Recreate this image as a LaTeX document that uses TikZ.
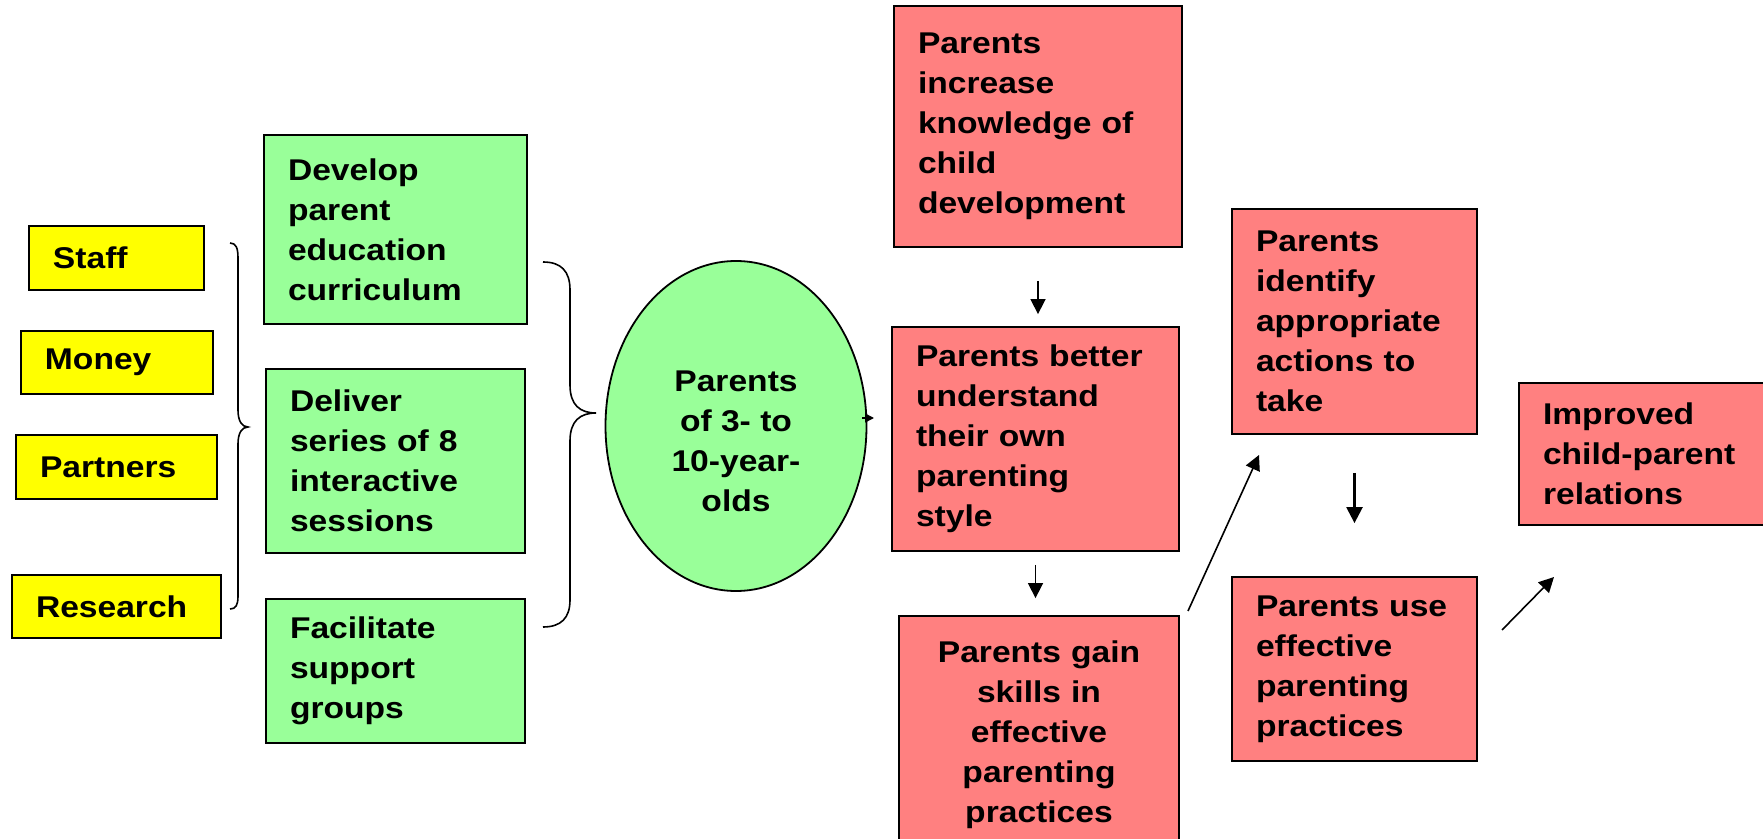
\documentclass[tikz,border=0pt]{standalone}
\usepackage{fontspec}
\setmainfont{Liberation Sans}[FakeStretch=1.12]
\usetikzlibrary{arrows.meta,shapes.geometric}
\definecolor{yelc}{HTML}{FFFF00}
\definecolor{grnc}{HTML}{99FF99}
\definecolor{redc}{HTML}{FF8080}
\newcommand\mylbl{\fontsize{15}{20}\selectfont\bfseries}
\tikzset{
  box/.style={draw=black, line width=0.9pt, inner xsep=12pt, inner ysep=0pt, align=left, font=\mylbl},
  yel/.style={box, fill=yelc},
  grn/.style={box, fill=grnc},
  red/.style={box, fill=redc},
  arr/.style={-{Triangle[length=7.5pt,width=7.5pt]}, line width=0.8pt},
  brc/.style={line width=0.8pt},
}
\begin{document}
\begin{tikzpicture}[x=0.5pt,y=-0.5pt]
\useasboundingbox (0,0) rectangle (1763,839);
\clip (0,0) rectangle (1763,839);
% inputs
\node[yel, minimum width=87.5pt, text width=63.5pt, minimum height=32pt] (staff) at (116.5,258) {Staff};
\node[yel, minimum width=96pt, text width=72pt, minimum height=31.5pt] (money) at (117,362.5) {Money};
\node[yel, minimum width=100.5pt, text width=76.5pt, minimum height=32pt] (partners) at (116.5,467) {Partners};
\node[yel, minimum width=104.5pt, text width=80.5pt, minimum height=31.5pt] (research) at (116.5,606.5) {Research};
% left brace
\draw[brc] (230,243) .. controls (236,243) and (238,248) .. (238,258) -- (238,410)
  .. controls (238,421) and (242,427) .. (248,427)
  .. controls (242,427) and (238,433) .. (238,444) -- (238,596)
  .. controls (238,605) and (236,609) .. (230,609);
% activities
\node[grn, minimum width=131.5pt, text width=107.5pt, minimum height=94.5pt] (develop) at (395.5,229.5) {Develop\\parent\\education\\curriculum};
\node[grn, minimum width=129.5pt, text width=105.5pt, minimum height=92pt] (deliver) at (395.5,461) {Deliver\\series~of~8\\interactive\\sessions};
\node[grn, minimum width=129.5pt, text width=105.5pt, minimum height=72pt] (facil) at (395.5,671) {Facilitate\\support\\groups};
% right brace
\draw[brc] (543,262) .. controls (561,262) and (570,271) .. (570,290) -- (570,385)
  .. controls (570,405) and (580,413) .. (596,413)
  .. controls (580,413) and (570,421) .. (570,441) -- (570,600)
  .. controls (570,618) and (561,627) .. (543,627);
% participants
\node[draw=black, line width=0.9pt, ellipse, fill=grnc, minimum width=130.5pt, minimum height=165pt, inner sep=0pt] (ell) at (736,426) {};
\node[font=\mylbl, align=center, inner sep=0pt] (ellt) at (736,441) {Parents\\of 3-~to\\10-year-\\olds};
% outcomes
\node[red, minimum width=144pt, text width=120pt, minimum height=120.5pt] (r1) at (1038,126.5) {Parents\\increase\\knowledge~of\\child\\development};
\node[red, minimum width=143.5pt, text width=119.5pt, minimum height=112pt] (r2) at (1035.5,439) {Parents~better\\understand\\their~own\\parenting\\style};
\node[red, align=center, minimum width=140pt, text width=116pt, minimum height=119pt] (r3) at (1039,735) {Parents~gain\\skills~in\\effective\\parenting\\practices};
\node[red, minimum width=122.5pt, text width=98.5pt, minimum height=112.5pt] (r4) at (1354.5,321.5) {Parents\\identify\\appropriate\\actions~to\\take};
\node[red, minimum width=122.5pt, text width=98.5pt, minimum height=92pt] (r5) at (1354.5,669) {Parents~use\\effective\\parenting\\practices};
\node[red, minimum width=135.5pt, text width=111.5pt, minimum height=71pt] (r6) at (1654.5,454) {Improved\\child-parent\\relations};
% connectors
\coordinate (a0s) at (862,418);
\coordinate (a0e) at (874,418);
\draw[-{Triangle[length=4.5pt,width=4.5pt]}, line width=0.8pt] (a0s) -- (a0e);
\draw[arr, shorten <=16.5pt, shorten >=6pt] (r1.south) -- (r1.south |- r2.north);
\draw[arr, shorten <=6.5pt, shorten >=8.5pt] (r2.south) -- (r2.south |- r3.north);
\coordinate (a3s) at (1188,611);
\coordinate (a3e) at (1259,455);
\draw[arr] (a3s) -- (a3e);
\draw[arr, line width=1.2pt, -{Triangle[length=8pt,width=8pt]}, shorten <=19pt, shorten >=26.5pt] (r4.south) -- (r5.north);
\coordinate (a5s) at (1502,630);
\coordinate (a5e) at (1554,577);
\draw[arr] (a5s) -- (a5e);
\end{tikzpicture}
\end{document}
